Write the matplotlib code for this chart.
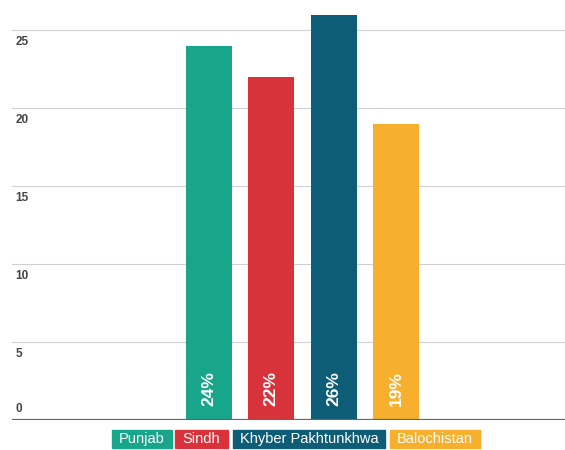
import matplotlib
matplotlib.use('Agg')
from matplotlib import pyplot as plt
from matplotlib.patches import Rectangle
import matplotlib.transforms as mtransforms

# data
provinces = ['Punjab', 'Sindh', 'Khyber Pakhtunkhwa', 'Balochistan']
shares = [24, 22, 26, 19]
colors = ['#17a689', '#d8333b', '#0d5d76', '#f7b02e']
yticks = [0, 5, 10, 15, 20, 25]

plt.rcParams['font.family'] = ['Liberation Sans', 'DejaVu Sans']

W, H = 565, 450
fig = plt.figure(figsize=(W/100, H/100), dpi=100)
ax = fig.add_axes([12/W, 30/H, 1 - 12/W, 421/H])

xpos = list(range(len(provinces)))
ax.bar(xpos, shares, width=0.74, color=colors, zorder=3)
ax.set_xlim(-3.16, 5.71)
ax.set_ylim(0, 27)

for s in ax.spines.values():
    s.set_visible(False)
ax.set_xticks([])
ax.set_yticks([])

# grid lines with labels just under them (the 0 label sits above its line)
trans = mtransforms.blended_transform_factory(ax.transAxes, ax.transData)
for t in yticks:
    if t == 0:
        ax.axhline(t, color='#666666', lw=1.6, zorder=4)
        ax.text(0.006, 0.3, '0', transform=trans, ha='left', va='bottom',
                fontsize=8.5, fontweight='bold', color='#444444')
    else:
        ax.axhline(t, color='#d0d0d0', lw=0.8, zorder=1)
        ax.text(0.006, t - 0.4, str(t), transform=trans, ha='left', va='top',
                fontsize=8.5, fontweight='bold', color='#444444')

# value labels inside bars
for x, v in zip(xpos, shares):
    ax.text(x, 2.0, f'{v}%', rotation=90, ha='center', va='center',
            color='white', fontsize=12.5, fontweight='bold', zorder=5)

# coloured legend boxes under the axis
boxes = [(112, 60), (175, 53), (233, 152), (390, 90)]
for (left, width), name, c in zip(boxes, provinces, colors):
    fig.patches.append(Rectangle((left/W, 2/H), width/W, 18/H,
                                 transform=fig.transFigure, color=c))
    fig.text((left + width/2)/W, 11/H, name, ha='center', va='center',
             color='white', fontsize=10.5)

fig.savefig('out.png', dpi=100)
